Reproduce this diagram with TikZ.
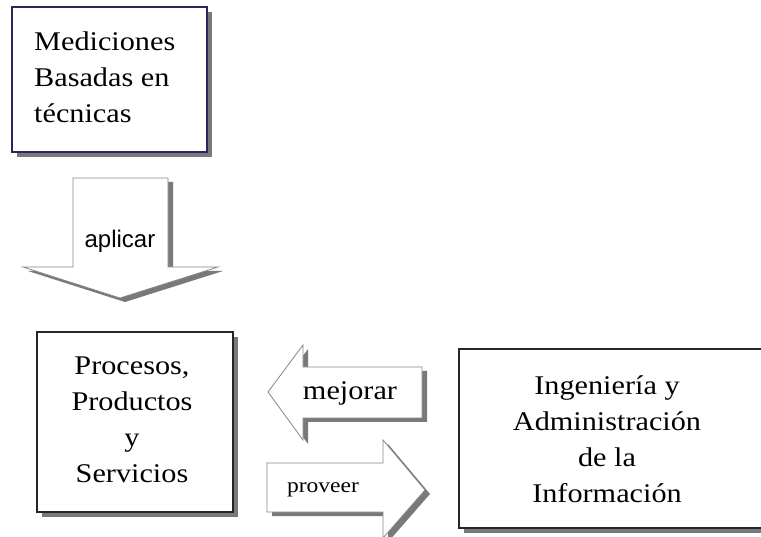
\documentclass[tikz,border=0pt]{standalone}
\usepackage{fontspec}
\setmainfont{Liberation Serif}
\newfontfamily\tnr[FakeStretch=1.12]{Liberation Serif}
\newfontfamily\arl{Liberation Sans}
\usetikzlibrary{shadows}
\definecolor{navy}{RGB}{40,40,90}
\definecolor{shd}{RGB}{120,120,125}
\definecolor{arline}{RGB}{135,135,135}
\tikzset{
  boxnode/.style={draw=black!85, line width=1.4pt, fill=white, inner sep=0pt,
    drop shadow={shadow xshift=5pt, shadow yshift=-5pt, fill=shd, opacity=1}},
  bigtext/.style={font=\tnr\fontsize{27}{36}\selectfont, inner sep=0pt},
  arrowbody/.style={draw=arline, line width=0.8pt, fill=white, line join=miter},
  arrowshadow/.style={fill=shd, draw=none}
}
\begin{document}
\begin{tikzpicture}[x=1pt,y=-1pt]
\useasboundingbox (0,0) rectangle (761,537);
\fill[white] (0,0) rectangle (761,537);
% boxes
\node[boxnode, draw=navy, minimum width=195pt, minimum height=145pt] (b1) at (109.5,79.5) {};
\node[bigtext, align=left, anchor=west] (t1) at (34,77) {Mediciones\\Basadas en\\técnicas};
\node[boxnode, minimum width=196pt, minimum height=180pt] (b2) at (135,422) {};
\node[bigtext, align=center] (t2) at (132,420) {Procesos,\\Productos\\y\\Servicios};
\node[boxnode, minimum width=311pt, minimum height=179pt] (b3) at (614.5,438.5) {};
\node[bigtext, align=center] (t3) at (607,439) {Ingeniería y\\Administración\\de la\\Información};
% aplicar arrow
\begin{scope}[shift={(5,4)}]
\fill[arrowshadow] (73,178) -- (168,178) -- (168,267) -- (218,267) -- (120,298) -- (23,267) -- (73,267) -- cycle;
\end{scope}
\draw[arrowbody] (73,178) -- (168,178) -- (168,267) -- (218,267) -- (120,298) -- (23,267) -- (73,267) -- cycle;
\node[font=\arl\fontsize{24}{28}\selectfont, inner sep=0pt] (ap) at (120,241) {aplicar};
% mejorar arrow
\begin{scope}[shift={(5,4)}]
\fill[arrowshadow] (268,392) -- (303,345) -- (303,367) -- (422,367) -- (422,418) -- (303,418) -- (303,440) -- cycle;
\end{scope}
\draw[arrowbody] (268,392) -- (303,345) -- (303,367) -- (422,367) -- (422,418) -- (303,418) -- (303,440) -- cycle;
\node[font=\tnr\fontsize{27}{30}\selectfont, inner sep=0pt] (mj) at (350,393) {mejorar};
% proveer arrow
\begin{scope}[shift={(5,4)}]
\fill[arrowshadow] (267,463) -- (383,463) -- (383,440) -- (425,490) -- (383,538) -- (383,512) -- (267,512) -- cycle;
\end{scope}
\draw[arrowbody] (267,463) -- (383,463) -- (383,440) -- (425,490) -- (383,538) -- (383,512) -- (267,512) -- cycle;
\node[font=\tnr\fontsize{21}{24}\selectfont, inner sep=0pt] (pv) at (323,490) {proveer};
\end{tikzpicture}
\end{document}
